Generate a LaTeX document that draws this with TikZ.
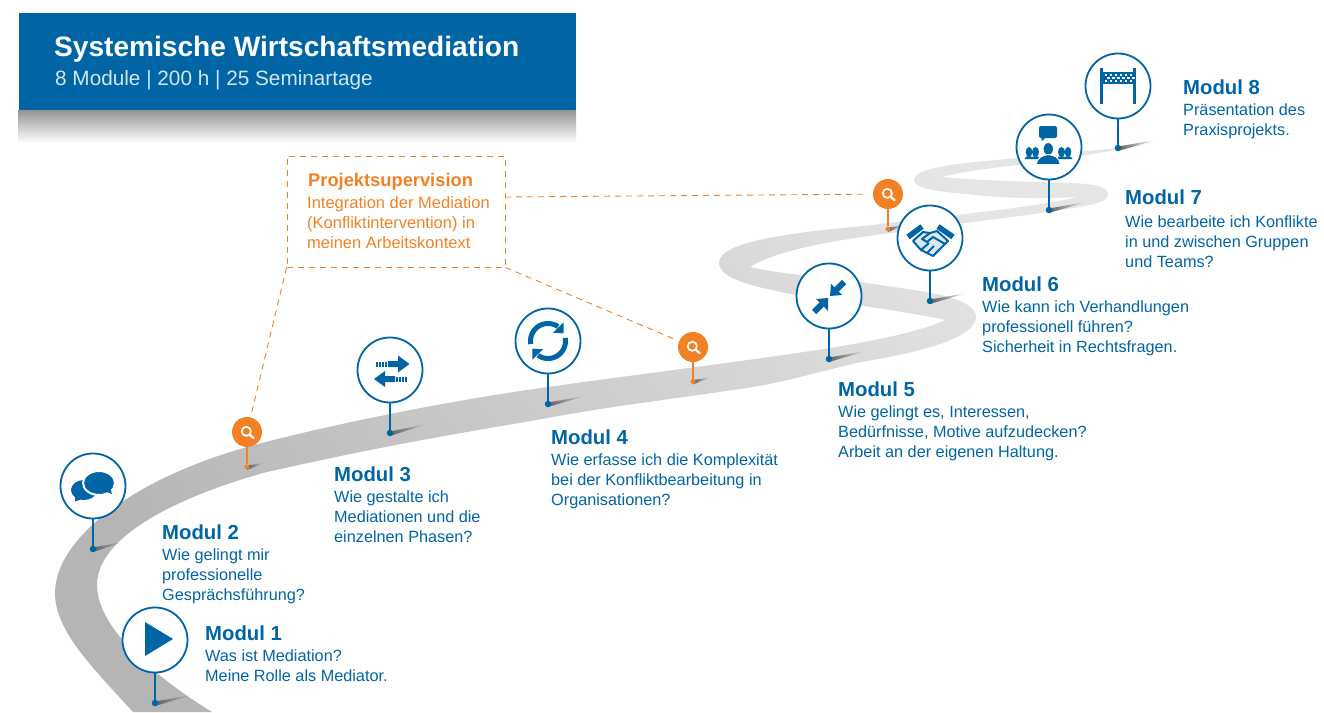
\documentclass[tikz,border=0pt]{standalone}
\usepackage{fontspec}
\setmainfont{Liberation Sans}
\usetikzlibrary{fadings}
\pgfdeclarelayer{under}
\pgfsetlayers{under,main}
\definecolor{blu}{HTML}{0065A4}
\definecolor{org}{HTML}{F28125}
\tikzset{
  modpin/.style={circle,draw=blu,fill=white,line width=1.8pt,minimum size=65pt,inner sep=0pt},
  suppin/.style={circle,fill=org,minimum size=30pt,inner sep=0pt},
  moddot/.style={circle,fill=blu,minimum size=6.5pt,inner sep=0pt},
  supdot/.style={circle,fill=org,minimum size=5pt,inner sep=0pt},
  modstem/.style={draw=blu,line width=1.7pt},
  supstem/.style={draw=org,line width=1.7pt},
  modhead/.style={anchor=base west,inner sep=0pt,text=blu,font=\fontsize{20.3}{22}\selectfont\bfseries},
  modbody/.style={anchor=north west,inner sep=0pt,text=blu,align=left,font=\fontsize{16.25}{20}\selectfont},
  suplink/.style={draw=org,line width=0.9pt,dash pattern=on 6pt off 5pt},
}
\newcommand{\castshade}[3]{\fill[black!62,path fading=east] ([shift={(0,3)}]#1.center) -- ([shift={(#2,#3)}]#1.center) -- ([shift={(0,-1.5)}]#1.center) -- cycle;}
\newcommand{\lens}[1]{\begin{scope}[shift={(#1)}]
  \draw[white,line width=1.7pt] (-0.7,-0.7) circle[radius=4.6pt];
  \draw[white,line width=2.2pt,line cap=round] (3,3) -- (6.6,6.2);
\end{scope}}
\newcommand{\rowsq}[2]{\foreach \k in {0,...,5}{\fill[white] ({-13.4+\k*5+#1},#2) rectangle +(2.5,2.4);}}
\begin{document}
\begin{tikzpicture}[x=1pt,y=-1pt]
\useasboundingbox (0,0) rectangle (1324,712);
% title
\shade[top color=black!42,bottom color=white] (18,110) rectangle (576,143);
\fill[blu] (19,13) rectangle (576,110);
\node[anchor=base west,inner sep=0pt,text=white,font=\fontsize{28.1}{30}\selectfont\bfseries] (titel) at (54,56) {Systemische Wirtschaftsmediation};
\node[anchor=base west,inner sep=0pt,text=white!82!blu,font=\fontsize{20.75}{24}\selectfont] (untertitel) at (55,85) {8 Module | 200 h | 25 Seminartage};
% dots
\node[moddot] (d1) at (155,703) {};
\node[moddot] (d2) at (93,549) {};
\node[moddot] (d3) at (390,433) {};
\node[moddot] (d4) at (548,404) {};
\node[moddot] (d5) at (829,359) {};
\node[moddot] (d6) at (930,301) {};
\node[moddot] (d7) at (1049,210) {};
\node[moddot] (d8) at (1118,148) {};
\node[supdot] (e1) at (247,467) {};
\node[supdot] (e2) at (693,381.5) {};
\node[supdot] (e3) at (888,229) {};
\begin{pgfonlayer}{under}
% road
\shade[bottom color=black!29,middle color=black!20,top color=black!10,shading angle=-50]
 (133,712) .. controls (90,665) and (55,630) .. (55,593)
 .. controls (55,540) and (130,480) .. (247,447)
 .. controls (320,427) and (440,402) .. (548,387)
 .. controls (640,374) and (740,362) .. (830,348)
 .. controls (880,340) and (925,330) .. (945,320)
 .. controls (900,310) and (830,302) .. (797,295)
 .. controls (760,288) and (719,280) .. (719,263)
 .. controls (719,240) and (800,232) .. (873,225)
 .. controls (950,215) and (1040,207) .. (1077,197)
 .. controls (1040,199) and (1000,198) .. (975,195)
 .. controls (945,192) and (914,190) .. (914,180)
 .. controls (914,165) and (980,162) .. (1017,158)
 .. controls (1070,152) and (1130,148) .. (1157,142)
 .. controls (1130,148) and (1060,160) .. (1017,165)
 .. controls (985,169) and (960,172) .. (942,177)
 .. controls (985,181) and (1040,182) .. (1070,183)
 .. controls (1095,184) and (1108,186) .. (1108,195)
 .. controls (1108,205) and (1070,208) .. (1047,212)
 .. controls (1010,218) and (920,228) .. (900,232)
 .. controls (850,238) and (780,248) .. (750,267)
 .. controls (790,276) and (830,277) .. (860,282)
 .. controls (910,290) and (976,295) .. (976,317)
 .. controls (976,338) and (920,352) .. (867,361)
 .. controls (830,368) and (790,382) .. (740,389)
 .. controls (650,402) and (600,408) .. (548,418)
 .. controls (480,430) and (400,442) .. (267,472)
 .. controls (200,490) and (97,530) .. (97,585)
 .. controls (97,630) and (160,680) .. (212,712)
 -- cycle;
\castshade{d1}{37}{-8}\castshade{d2}{30}{-7}\castshade{d3}{37}{-9}\castshade{d4}{37}{-8}
\castshade{d5}{37}{-8}\castshade{d6}{37}{-8}\castshade{d7}{37}{-8}\castshade{d8}{38}{-8}
\castshade{e1}{17}{-4}\castshade{e2}{17}{-4}\castshade{e3}{17}{-4}
\end{pgfonlayer}
% pins
\node[modpin] (m1) at (155,640) {};
\node[modpin] (m2) at (93,486) {};
\node[modpin] (m3) at (390,370) {};
\node[modpin] (m4) at (548,341) {};
\node[modpin] (m5) at (829,296) {};
\node[modpin] (m6) at (930,238) {};
\node[modpin] (m7) at (1049,147) {};
\node[modpin] (m8) at (1118,86) {};
\node[suppin] (s1) at (247,432) {};
\node[suppin] (s2) at (693,347) {};
\node[suppin] (s3) at (888,194) {};
\foreach \i in {1,...,8}{\path[modstem] (m\i) -- (d\i);}
\foreach \i in {1,2,3}{\path[supstem] (s\i) -- (e\i);}
\lens{s1.center}\lens{s2.center}\lens{s3.center}
% icon 1 play
\begin{scope}[shift={(m1.center)}]
 \fill[blu] (-10,-18) -- (18,-1) -- (-10,16) -- cycle;
\end{scope}
% icon 2 bubbles
\begin{scope}[shift={(m2.center)}]
 \fill[blu] (-9,4) ellipse[x radius=13pt,y radius=10pt];
 \fill[blu] (-18,4) -- (-18,15.5) -- (-8,12) -- cycle;
 \fill[blu,draw=white,line width=2pt] (6,-3) ellipse[x radius=16pt,y radius=12pt];
 \fill[blu] (11,5) -- (19,8) -- (17,1) -- cycle;
\end{scope}
% icon 3 arrows
\begin{scope}[shift={(m3.center)}]
 \fill[blu] (-2,-9) -- (8,-9) -- (8,-14.5) -- (19.5,-6) -- (8,2.5) -- (8,-3) -- (-2,-3) -- cycle;
 \foreach \q in {-14.5,-11.5,-8.5,-5.5}{\fill[blu] (\q,-8.5) rectangle +(2,5);}
 \fill[blu] (5,6) -- (-5,6) -- (-5,1) -- (-16,9) -- (-5,17) -- (-5,12) -- (5,12) -- cycle;
 \foreach \q in {6,9,12,15}{\fill[blu] (\q,6.5) rectangle +(2,5);}
\end{scope}
% icon 4 cycle
\begin{scope}[shift={(m4.center)}]
 \draw[blu,line width=5pt] plot[smooth,domain=170:305,samples=20] ({17.5*cos(\x)},{17.5*sin(\x)});
 \draw[blu,line width=5pt] plot[smooth,domain=350:485,samples=20] ({17.5*cos(\x)},{17.5*sin(\x)});
 \fill[blu] (15.7,-18.7) -- (15.7,-7.7) -- (5,-8.3) -- cycle;
 \fill[blu] (-15.7,18.7) -- (-15.7,7.7) -- (-5,8.3) -- cycle;
\end{scope}
% icon 5 inward arrows
\begin{scope}[shift={(m5.center)}]
 \fill[blu] (1,0) -- (2,-12) -- (13,-1) -- cycle;
 \draw[blu,line width=6pt] (15,-14) -- (7,-6);
 \fill[blu] (-1,2) -- (-13,3) -- (-1,15) -- cycle;
 \draw[blu,line width=6pt] (-15,16) -- (-7,8);
\end{scope}
% icon 6 handshake
\begin{scope}[shift={(m6.center)}]
 \draw[blu,line width=5.5pt] (-22,-1) -- (-8,-11.5);
 \draw[blu,line width=5.5pt] (8,-11.5) -- (23,-1);
 \fill[blu!15,draw=blu,line width=2pt,line join=round] (-17,3) -- (-7,-6) -- (0,-5) -- (7,-7) -- (18,3) -- (3,18) -- (-9,12) -- cycle;
 \draw[blu,line width=2pt,line join=round] (0,-5) -- (-8,1) -- (-3,4) -- (3,-1) -- (15,6);
 \draw[blu,line width=2pt] (-9,12) -- (-1,5) (-3,15) -- (4,8) (3,18) -- (10,11);
\end{scope}
% icon 7 group
\begin{scope}[shift={(m7.center)}]
 \fill[blu,rounded corners=2pt] (-10,-21) rectangle (8,-9);
 \fill[blu] (-8,-10) -- (-7,-6) -- (-3,-10) -- cycle;
 \foreach \s/\r in {-20/3.3,-13.5/3.5,12.5/3.5,19/3.3}{
  \fill[blu] (\s,5) ellipse[x radius=\r pt,y radius=5pt];
  \fill[blu] (\s-4.5,12) .. controls (\s-4,8) and (\s+4,8) .. (\s+4.5,12) -- cycle;
 }
 \fill[blu,draw=white,line width=.9pt] (-0.7,2) ellipse[x radius=5.2pt,y radius=6.5pt];
 \fill[blu,draw=white,line width=.9pt] (-12.5,17.5) .. controls (-11.5,9) and (-6,9) .. (-0.7,7.5) .. controls (5,9) and (10,9) .. (11,17.5) -- cycle;
\end{scope}
% icon 8 finish gate
\begin{scope}[shift={(m8.center)}]
 \fill[blu] (-18,-18) rectangle (-15,18);
 \fill[blu] (15,-18) rectangle (18,18);
 \fill[blu] (-15,-14) rectangle (15,-2);
 \rowsq{0}{-12.5}
 \rowsq{2.5}{-9.5}
 \rowsq{0}{-6.5}
\end{scope}
% texts
\node[modhead] (h1) at (205,640) {Modul 1};
\node[modbody] (b1) at (205,649) {\rule{0pt}{12pt}Was ist Mediation?\\Meine Rolle als Mediator.};
\node[modhead] (h2) at (162,539) {Modul 2};
\node[modbody] (b2) at (162,548) {\rule{0pt}{12pt}Wie gelingt mir\\professionelle\\Gesprächsführung?};
\node[modhead] (h3) at (334,481) {Modul 3};
\node[modbody] (b3) at (334,490) {\rule{0pt}{12pt}Wie gestalte ich\\Mediationen und die\\einzelnen Phasen?};
\node[modhead] (h4) at (551,444) {Modul 4};
\node[modbody] (b4) at (551,453) {\rule{0pt}{12pt}Wie erfasse ich die Komplexität\\bei der Konfliktbearbeitung in\\Organisationen?};
\node[modhead] (h5) at (838,396) {Modul 5};
\node[modbody] (b5) at (838,405) {\rule{0pt}{12pt}Wie gelingt es, Interessen,\\Bedürfnisse, Motive aufzudecken?\\Arbeit an der eigenen Haltung.};
\node[modhead] (h6) at (982,291) {Modul 6};
\node[modbody] (b6) at (982,300) {\rule{0pt}{12pt}Wie kann ich Verhandlungen\\professionell führen?\\Sicherheit in Rechtsfragen.};
\node[modhead] (h7) at (1125,204) {Modul 7};
\node[modbody] (b7) at (1125,215) {\rule{0pt}{12pt}Wie bearbeite ich Konflikte\\in und zwischen Gruppen\\und Teams?};
\node[modhead] (h8) at (1183,94) {Modul 8};
\node[modbody] (b8) at (1183,103) {\rule{0pt}{12pt}Präsentation des\\Praxisprojekts.};
% supervision box
\node[draw=org,line width=0.9pt,dash pattern=on 6pt off 5pt,minimum width=218pt,minimum height=111pt,inner sep=0pt] (pbox) at (396,211.5) {};
\node[anchor=base west,inner sep=0pt,text=org,font=\fontsize{18.3}{20}\selectfont\bfseries] (ptitle) at (308,186) {Projektsupervision};
\node[anchor=north west,inner sep=0pt,text=org,align=left,font=\fontsize{16.5}{20}\selectfont] (pbody) at (307,196) {\rule{0pt}{11pt}Integration der Mediation\\(Konfliktintervention) in\\meinen Arbeitskontext};
\coordinate (plink) at (505,197);
\path[suplink,shorten >=5pt] (pbox.south west) -- (s1);
\path[suplink,shorten >=4pt] (pbox.south east) -- (s2);
\path[suplink,shorten >=8pt] (plink) -- (s3);
\end{tikzpicture}
\end{document}
